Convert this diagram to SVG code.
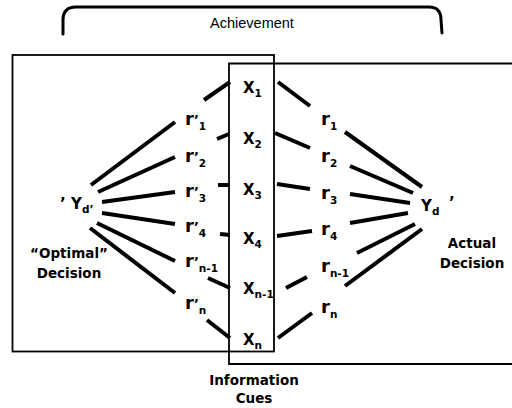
<svg xmlns="http://www.w3.org/2000/svg" width="512" height="408" viewBox="0 0 512 408">
  <style>
    .frame { fill: none; stroke: #000; stroke-width: 1.8; }
    .brace { fill: none; stroke: #000; stroke-width: 3; stroke-linecap: round; }
    .link { stroke: #000; stroke-width: 4; stroke-linecap: butt; }
    .lbl { font-family: "DejaVu Sans", Verdana, sans-serif; font-weight: bold; font-size: 15px; fill: #000; }
    .w { font-size: 18px; }
    .pr { font-size: 13px; }
    .cap { font-family: "DejaVu Sans", Verdana, sans-serif; font-weight: bold; font-size: 13.5px; fill: #000; text-anchor: middle; }
    .sub { font-size: 10.5px; }
    .title { font-family: "Liberation Sans", Arial, sans-serif; font-size: 14.5px; fill: #000; text-anchor: middle; }
  </style>

  <!-- achievement brace across the top -->
  <g id="achievement">
    <path class="brace" d="M63,34 L63,20 Q63,7 76,7 L429,7 Q441,7 441,20 L442,33"/>
    <text class="title" x="252" y="28">Achievement</text>
  </g>

  <!-- the two overlapping frames; their overlap is the cue column -->
  <g id="frames">
    <rect class="frame" x="12.5" y="55" width="261.5" height="296.5"/>
    <path class="frame" d="M515,63.5 L229,63.5 L229,364 L515,364"/>
  </g>

  <g id="connectors">
    <!-- optimal model fan -->
    <line class="link" x1="91" y1="185" x2="175" y2="122"/>
    <line class="link" x1="98" y1="192" x2="175" y2="157"/>
    <line class="link" x1="102" y1="202" x2="175" y2="192"/>
    <line class="link" x1="102" y1="213" x2="175" y2="224"/>
    <line class="link" x1="97" y1="223" x2="175" y2="261"/>
    <line class="link" x1="90" y1="228" x2="175" y2="293"/>
    <!-- optimal weights to cues -->
    <line class="link" x1="204" y1="100" x2="230" y2="82"/>
    <line class="link" x1="217" y1="139" x2="229" y2="134"/>
    <line class="link" x1="218" y1="185" x2="230" y2="185"/>
    <line class="link" x1="220" y1="234" x2="230" y2="235"/>
    <line class="link" x1="208" y1="278" x2="230" y2="288"/>
    <line class="link" x1="207" y1="320" x2="230" y2="338"/>
    <!-- cues to judge weights -->
    <line class="link" x1="278" y1="82" x2="310" y2="106"/>
    <line class="link" x1="275" y1="133" x2="310" y2="148"/>
    <line class="link" x1="277" y1="184" x2="310" y2="189"/>
    <line class="link" x1="277" y1="236" x2="312" y2="231"/>
    <line class="link" x1="286" y1="288" x2="307" y2="277"/>
    <line class="link" x1="278" y1="338" x2="312" y2="313"/>
    <!-- judge fan -->
    <line class="link" x1="345" y1="132" x2="422" y2="187"/>
    <line class="link" x1="350" y1="166" x2="413" y2="193"/>
    <line class="link" x1="350" y1="194" x2="410" y2="203"/>
    <line class="link" x1="350" y1="223" x2="408" y2="213"/>
    <line class="link" x1="357" y1="253" x2="415" y2="224"/>
    <line class="link" x1="345" y1="286" x2="422" y2="229"/>
  </g>

  <!-- optimal decision -->
  <g id="optimal">
    <text class="lbl" x="60" y="209" font-size="10">’</text>
    <text class="lbl" x="71" y="209" font-size="16">Y<tspan class="sub" dy="4">d’</tspan></text>
    <text class="cap" x="69" y="258">“Optimal”</text>
    <text class="cap" x="69" y="278">Decision</text>
  </g>

  <!-- optimal weights -->
  <g id="optimal-weights">
    <text class="lbl" x="185" y="125"><tspan class="w">r</tspan><tspan class="pr" dy="-1">’</tspan><tspan class="sub" dy="6">1</tspan></text>
    <text class="lbl" x="185" y="162"><tspan class="w">r</tspan><tspan class="pr" dy="-1">’</tspan><tspan class="sub" dy="6">2</tspan></text>
    <text class="lbl" x="185" y="197"><tspan class="w">r</tspan><tspan class="pr" dy="-1">’</tspan><tspan class="sub" dy="6">3</tspan></text>
    <text class="lbl" x="185" y="232"><tspan class="w">r</tspan><tspan class="pr" dy="-1">’</tspan><tspan class="sub" dy="6">4</tspan></text>
    <text class="lbl" x="185" y="267"><tspan class="w">r</tspan><tspan class="pr" dy="-1">’</tspan><tspan class="sub" dy="6">n-1</tspan></text>
    <text class="lbl" x="185" y="309"><tspan class="w">r</tspan><tspan class="pr" dy="-1">’</tspan><tspan class="sub" dy="6">n</tspan></text>
  </g>

  <!-- information cues -->
  <g id="cues">
    <text class="lbl" x="243" y="93">X<tspan class="sub" dy="4">1</tspan></text>
    <text class="lbl" x="243" y="144">X<tspan class="sub" dy="4">2</tspan></text>
    <text class="lbl" x="243" y="195">X<tspan class="sub" dy="4">3</tspan></text>
    <text class="lbl" x="243" y="244">X<tspan class="sub" dy="4">4</tspan></text>
    <text class="lbl" x="243" y="294">X<tspan class="sub" dy="4">n-1</tspan></text>
    <text class="lbl" x="243" y="345">X<tspan class="sub" dy="4">n</tspan></text>
    <text class="cap" x="254" y="385">Information</text>
    <text class="cap" x="254" y="403">Cues</text>
  </g>

  <!-- judge weights -->
  <g id="judge-weights">
    <text class="lbl" x="321" y="125"><tspan class="w">r</tspan><tspan class="sub" dy="5">1</tspan></text>
    <text class="lbl" x="321" y="162"><tspan class="w">r</tspan><tspan class="sub" dy="5">2</tspan></text>
    <text class="lbl" x="321" y="199"><tspan class="w">r</tspan><tspan class="sub" dy="5">3</tspan></text>
    <text class="lbl" x="321" y="235"><tspan class="w">r</tspan><tspan class="sub" dy="5">4</tspan></text>
    <text class="lbl" x="321" y="272"><tspan class="w">r</tspan><tspan class="sub" dy="5">n-1</tspan></text>
    <text class="lbl" x="321" y="313"><tspan class="w">r</tspan><tspan class="sub" dy="5">n</tspan></text>
  </g>

  <!-- actual decision -->
  <g id="actual">
    <text class="lbl" x="421" y="211" font-size="16">Y<tspan class="sub" dy="4">d</tspan></text>
    <text class="lbl" x="449" y="208" font-size="10">’</text>
    <text class="cap" x="472" y="248">Actual</text>
    <text class="cap" x="472" y="268">Decision</text>
  </g>
</svg>
